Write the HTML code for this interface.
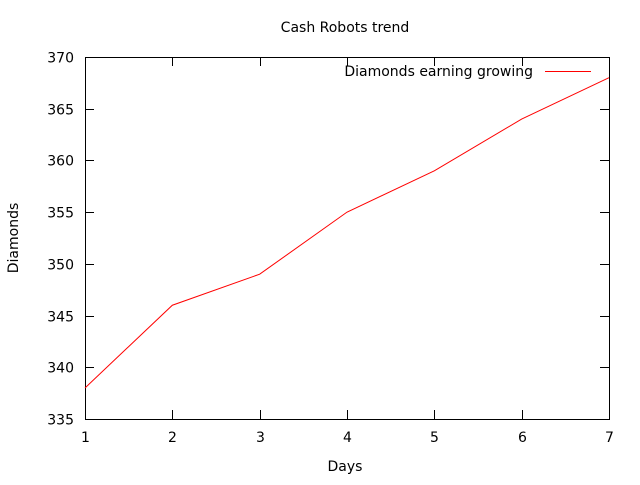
<!DOCTYPE html>
<html><head><meta charset="utf-8"><style>
body{margin:0;background:#fff;}
svg text{font-family:"DejaVu Sans","Liberation Sans",sans-serif;font-size:14px;fill:#000;}
</style></head><body>
<svg id="chart" width="640" height="480">
<rect width="640" height="480" fill="#fff"/>
<text x="345" y="32" text-anchor="middle">Cash Robots trend</text>
<text x="345" y="471" text-anchor="middle">Days</text>
<text transform="translate(18,238) rotate(-90)" text-anchor="middle">Diamonds</text>
<g id="axes"></g>
<rect x="85.5" y="57.5" width="524" height="362" fill="none" stroke="#000" stroke-width="1"/>
<g>
<text x="533" y="76" text-anchor="end">Diamonds earning growing</text>
<line x1="545" y1="71.5" x2="591" y2="71.5" stroke="#f00" stroke-width="1"/>
</g>
</svg>
<script>
const days=[1,2,3,4,5,6,7];
const diamonds=[338,346,349,355,359,364,368];
const yTicks=[335,340,345,350,355,360,365,370];
const xTicks=[1,2,3,4,5,6,7];
const X0=85,X1=609,Y0=419,Y1=57;
const xs=v=>X0+(v-1)/(7-1)*(X1-X0);
const ys=v=>Y0-(v-335)/(370-335)*(Y0-Y1);
const NS="http://www.w3.org/2000/svg";
const svg=document.getElementById('chart'),g=document.getElementById('axes');
function mk(t,a,p){const e=document.createElementNS(NS,t);for(const k in a)e.setAttribute(k,a[k]);(p||g).appendChild(e);return e;}
yTicks.forEach(v=>{const y=Math.round(ys(v))+0.5;
const l=mk('path',{d:`M${X0} ${y}h9M${X1} ${y}h-9`,stroke:'#000'});


const t=mk('text',{x:X0-11,y:y+5,'text-anchor':'end'});t.textContent=v;

});
xTicks.forEach(v=>{const x=Math.round(xs(v))+0.5;
const l=mk('path',{d:`M${x} ${Y0}v-9M${x} ${Y1}v9`,stroke:'#000'});


const t=mk('text',{x:x,y:Y0+23,'text-anchor':'middle'});t.textContent=v;

});
const line=mk('polyline',{points:days.map((d,i)=>xs(d)+','+ys(diamonds[i])).join(' '),fill:'none',stroke:'#f00','stroke-width':1},svg);


</script>
</body></html>
